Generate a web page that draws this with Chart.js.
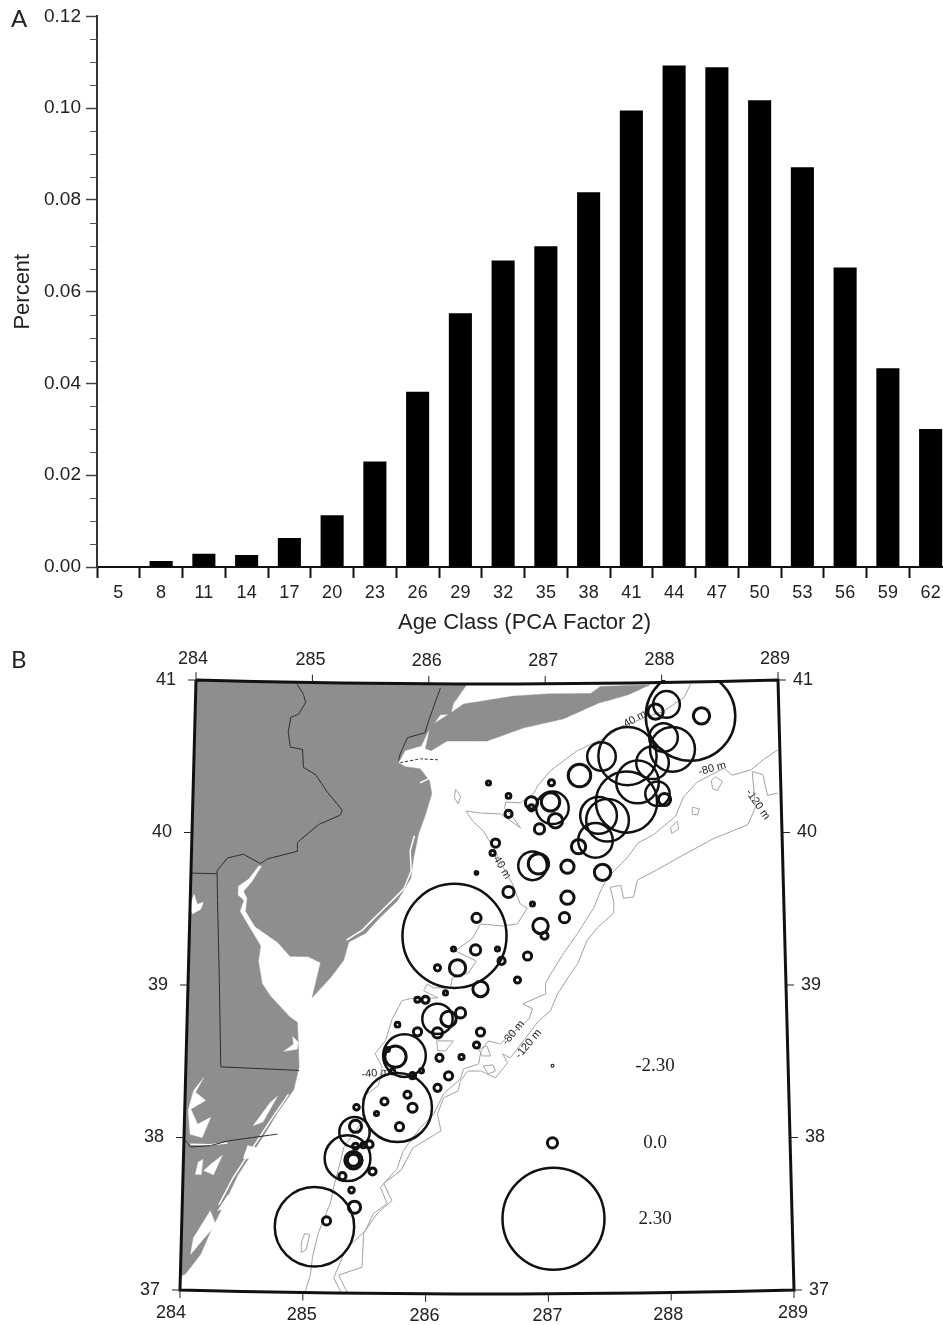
<!DOCTYPE html>
<html><head><meta charset="utf-8">
<style>html,body{margin:0;padding:0;background:#fff;width:943px;height:1325px;overflow:hidden}
canvas{position:absolute;left:0;display:block}</style>
<script src="https://cdn.jsdelivr.net/npm/chart.js@4"></script></head>
<body>
<canvas id="bars" width="960" height="645" style="top:0"></canvas>
<canvas id="map" width="943" height="680" style="top:645px"></canvas>
<script>
// ---------- Panel A ----------
const ageClasses=['5','8','11','14','17','20','23','26','29','32','35','38','41','44','47','50','53','56','59','62'];
const percentValues=[0.0001,0.0013,0.0029,0.0026,0.0063,0.0113,0.0230,0.0382,0.0553,0.0668,0.0699,0.0817,0.0995,0.1093,0.1089,0.1017,0.0871,0.0653,0.0433,0.0301];

// ---------- Panel B ----------
const lonTicks=[284,285,286,287,288,289];
const latTicks=[37,38,39,40,41];
const frameLons=[284,284.5,285,285.5,286,286.5,287,287.5,288,288.5,289];
const stationLon=[288.243,288.039,287.944,288.337,288.009,288.084,287.699,287.477,287.288,287.912,287.782,287.686,287.95,288.009,287.447,287.523,287.419,287.275,287.476,287.18,286.885,286.935,287.178,287.152,286.95,286.983,286.84,286.755,286.446,286.622,286.588,286.412,286.404,286.253,286.085,286.219,286.227,286.681,286.883,286.572,286.547,286.411,286.683,286.683,286.513,287.049,286.878,286.878,287.056,287.04,287.081,286.945,286.153,285.986,285.919,286.087,286.179,286.279,286.088,285.921,286.446,286.413,286.105,286.288,286.181,286.09,285.754,285.814,285.739,285.672,285.716,285.882,285.956,285.759,285.841,285.884,285.651,285.777,285.42,285.586,285.406,285.414,285.531,285.351,285.4,285.4,285.558,285.311,285.387,285.413,285.416,285.481,285.087,285.185];
const stationLat=[40.777,40.856,40.81,40.777,40.639,40.561,40.521,40.521,40.397,40.475,40.351,40.22,40.272,40.233,40.134,40.102,39.971,39.931,39.761,39.8,39.807,39.82,39.597,39.466,39.413,39.348,39.216,39.059,39.0,39.184,39.262,39.466,39.256,39.138,39.138,39.262,39.348,39.636,39.557,39.957,39.892,39.761,40.148,40.266,40.351,40.351,40.22,40.187,40.187,40.226,40.102,40.049,38.974,38.928,38.928,38.803,38.803,38.843,38.712,38.718,38.718,38.633,38.548,38.554,38.43,38.351,38.764,38.561,38.554,38.6,38.456,38.43,38.462,38.22,38.305,38.22,38.259,38.095,38.22,38.18,38.056,38.095,37.977,37.885,37.872,37.872,37.8,37.767,37.676,37.564,37.964,37.971,37.433,37.472];
const stationScore=[2.17,.96,.41,.47,1.03,1.48,1.74,1.03,.79,1.16,1.43,1.79,.87,.18,1.28,1.43,1.22,.34,.47,.26,1.03,.69,.26,0,.41,-.36,-.22,-.51,.41,-.36,-.92,-.11,0,.47,-.51,-.92,2.32,.09,-.92,-.22,-.69,-1.35,-.36,-.78,-.92,-.51,.18,-.51,1.16,.59,.34,0,-.92,-.36,-.69,1.09,.41,0,0,-.22,-.22,-.51,-.36,-.69,-.22,-.36,-.78,1.43,.74,-.92,-.78,-.51,-.92,1.91,-.36,-.11,-.36,-.22,-.6,-.92,1.09,.18,-.36,1.5,.53,.18,-.36,-.36,-.6,.18,-.51,-.69,2.05,-.22];
const legendLon=[287.044,287.04,287.045];
const legendLat=[38.495,37.99,37.492];
const legendScore=[-2.30,0.0,2.30];
const legendText=['-2.30','0.0','2.30'];

const contour40=[[288.25,40.987],[288.19,40.9],[288.01,40.81],[287.84,40.77],[287.64,40.705],[287.5,40.64],[287.27,40.56],[287.04,40.43],[286.93,40.33],[286.9,40.285],[286.785,40.22],[286.66,40.226],[286.65,40.187],[286.725,40.12],[286.785,40.056],[286.615,40.148],[286.445,40.154],[286.32,40.167],[286.38,40.1],[286.47,40.036],[286.555,39.925],[286.63,39.807],[286.715,39.689],[286.78,39.557],[286.84,39.531],[286.755,39.426],[286.63,39.413],[286.445,39.426],[286.38,39.335],[286.235,39.249],[286.41,39.184],[286.345,39.105],[286.21,39.072],[286.195,39.007],[286.05,39.007],[286,39.033],[285.97,38.987],[286.09,38.941],[285.86,38.935],[285.79,38.921],[285.71,38.803],[285.655,38.659],[285.57,38.574],[285.63,38.482],[285.6,38.364],[285.47,38.285],[285.47,38.2],[285.495,38.154],[285.32,37.957],[285.29,37.853],[285.24,37.695],[285.215,37.59],[285.12,37.394],[285.075,37.236],[285.06,37.118],[285.02,37.007]];
const contour80=[[288.98,40.541],[288.86,40.482],[288.75,40.416],[288.59,40.384],[288.52,40.43],[288.29,40.344],[288.17,40.246],[288.1,40.121],[287.91,40.003],[287.78,39.951],[287.69,39.859],[287.52,39.728],[287.46,39.643],[287.4,39.531],[287.26,39.361],[287.14,39.23],[287.05,39.118],[286.99,39.04],[286.99,38.967],[286.8,38.902],[286.88,38.869],[286.85,38.803],[286.61,38.64],[286.51,38.659],[286.45,38.594],[286.43,38.508],[286.305,38.476],[286.28,38.41],[286.14,38.312],[286.06,38.18],[285.95,38.089],[285.81,37.938],[285.76,37.82],[285.625,37.695],[285.68,37.59],[285.57,37.525],[285.505,37.413],[285.34,37.282],[285.3,37.197],[285.25,37.099],[285.31,37.007]];
const contour120=[[288.97,40.259],[288.885,40.246],[288.85,40.384],[288.76,40.403],[288.78,40.167],[288.71,40.056],[288.42,39.971],[288.14,39.859],[287.94,39.774],[287.77,39.708],[287.735,39.597],[287.65,39.59],[287.63,39.675],[287.54,39.662],[287.57,39.557],[287.565,39.492],[287.43,39.4],[287.34,39.315],[287.26,39.164],[287.2,39.098],[287.09,38.967],[287.03,38.856],[286.93,38.79],[286.695,38.548],[286.63,38.574],[286.67,38.515],[286.57,38.417],[286.45,38.462],[286.34,38.462],[286.28,38.397],[286.26,38.331],[286.14,38.285],[286.09,38.18],[286.12,38.069],[285.89,37.957],[285.79,37.807],[285.65,37.722],[285.72,37.61],[285.6,37.525],[285.49,37.394],[285.48,37.171],[285.29,37.118],[285.36,37.007]];
const contourLoops=[
 [[286.232,40.31],[286.274,40.266],[286.257,40.213],[286.223,40.252],[286.232,40.31]],
 [[285.007,37.387],[285.048,37.381],[285.023,37.282],[284.982,37.262],[284.982,37.328],[285.007,37.387]],
 [[288.445,40.377],[288.504,40.344],[288.46,40.285],[288.42,40.298],[288.41,40.351],[288.445,40.377]],
 [[288.244,40.18],[288.304,40.167],[288.287,40.128],[288.244,40.134],[288.244,40.18]],
 [[288.056,40.049],[288.116,40.089],[288.124,40.036],[288.065,40.01],[288.056,40.049]],
 [[286.08,38.659],[286.22,38.659],[286.155,38.594],[286.09,38.594],[286.08,38.659]],
 [[286.43,38.607],[286.5,38.626],[286.53,38.561],[286.46,38.561],[286.43,38.607]],
 [[286.47,38.495],[286.55,38.502],[286.57,38.462],[286.51,38.443],[286.47,38.495]]
];
const contourLabelText=['-40 m','-80 m','-120 m','-40 m','-40 m','-80 m','-120 m'];
const contourLabelLon=[287.754,288.42,288.8,286.62,285.575,286.72,286.845];
const contourLabelLat=[40.757,40.43,40.187,39.807,38.443,38.712,38.64];
const contourLabelAngle=[-30,-15,55,60,-5,-50,-50];

const mainland=[[284,41],[285,41],[286,41],[286.33,41],[286.21,40.869],[286.19,40.803],[286.1,40.797],[285.99,40.679],[285.94,40.593],[285.8,40.561],[285.745,40.482],[285.805,40.456],[285.93,40.443],[286.01,40.364],[286.03,40.279],[285.98,40.148],[285.92,40.016],[285.88,39.859],[285.855,39.721],[285.746,39.577],[285.6,39.466],[285.48,39.361],[285.34,39.302],[285.3,39.184],[285.19,39.066],[285.04,38.935],[285.105,39.164],[285,39.203],[284.85,39.203],[284.74,39.295],[284.55,39.394],[284.47,39.492],[284.48,39.577],[284.45,39.623],[284.52,39.689],[284.6,39.793],[284.57,39.793],[284.49,39.708],[284.4,39.656],[284.4,39.597],[284.45,39.564],[284.42,39.492],[284.51,39.38],[284.6,39.269],[284.585,39.164],[284.62,39.02],[284.69,38.941],[284.86,38.803],[284.92,38.77],[284.94,38.482],[284.9,38.331],[284.77,38.18],[284.655,38.023],[284.45,37.761],[284.34,37.564],[284.24,37.394],[284.16,37.236],[284.04,37.105],[284,37.09],[284,38],[284,39],[284,40],[284,41]];
const longIsland=[[285.975,40.574],[286.016,40.725],[286.19,40.81],[286.3,40.869],[286.47,40.889],[286.73,40.921],[287.02,40.934],[287.39,40.934],[287.475,40.98],[287.9,40.987],[287.705,40.921],[287.45,40.869],[287.155,40.77],[286.81,40.711],[286.5,40.626],[286.16,40.626],[286.02,40.561]];
const waterPatches=[
 [[284.15,38.397],[284.085,38.298],[284.17,38.246],[284.05,38.187],[284.11,38.089],[284.215,38.135],[284.15,38.003],[284.05,38.023],[284.03,38.18],[284.07,38.312]],
 [[284.03,39.597],[284.06,39.531],[284.11,39.544],[284.09,39.498],[284.02,39.466],[284,39.525]],
 [[284.88,38.679],[284.93,38.64],[284.92,38.594],[284.81,38.58],[284.89,38.626]],
 [[284.12,37.84],[284.16,37.859],[284.15,37.761],[284.1,37.761]],
 [[284.32,37.892],[284.25,37.761],[284.17,37.787],[284.24,37.84]],
 [[284.23,37.525],[284.28,37.433],[284.17,37.328],[284.08,37.236],[284.1,37.348]],
 [[284.525,37.957],[284.63,37.938],[284.58,37.872],[284.49,37.872]],
 [[284.765,38.285],[284.65,38.115],[284.57,38.089],[284.71,38.246]],
 [[284.37,37.63],[284.435,37.63],[284.355,37.544],[284.29,37.525]]
];
const marshLines=[
 [[285.885,40.003],[285.85,39.905],[285.86,39.774],[285.8,39.656],[285.7,39.577],[285.59,39.492],[285.45,39.38],[285.32,39.315]],
 [[284.855,38.298],[284.73,38.148],[284.59,37.971],[284.41,37.741],[284.3,37.564]],
 [[284.055,37.957],[284.22,37.957],[284.36,37.971]],
 [[285.93,40.351],[286,40.377]]
];
const stateLines=[
 [[284.87,40.987],[284.925,40.921],[284.945,40.869],[284.885,40.79],[284.82,40.77],[284.8,40.672],[284.82,40.574],[284.925,40.561],[284.935,40.443],[285.04,40.397],[285.14,40.285],[285.27,40.167],[285.255,40.134],[285.07,40.069],[284.895,39.951],[284.895,39.892],[284.645,39.839],[284.585,39.807]],
 [[286.1,40.974],[286,40.757],[285.97,40.679],[285.82,40.646],[285.76,40.541],[285.745,40.495]],
 [[284.585,39.807],[284.44,39.866],[284.305,39.839],[284.22,39.754],[284.23,39.557],[284.26,39.053],[284.29,38.469],[284.94,38.456]],
 [[284.01,39.734],[284.22,39.734]],
 [[284.01,37.984],[284.055,37.938],[284.22,37.951],[284.36,37.984],[284.77,38.036]]
];
const dashedLines=[[[285.76,40.482],[285.93,40.508],[286.09,40.502]]];

// ---------- helpers ----------
function project(lon,lat){
  const t=(lon-286.5)/2.5, k=116.4+1.6*(41-lat);
  return {x:286.5+(lon-286.5)*k/122.8, y:lat-4*(1-t*t)/152.5};
}
const toPts=a=>a.map(p=>project(p[0],p[1]));
const radiusOf=s=>5.1*Math.pow(10,s/2.3);
const SANS='"Liberation Sans", Arial, sans-serif';

// ---------- Panel A chart ----------
new Chart(document.getElementById('bars'),{
  type:'bar',
  data:{labels:ageClasses,datasets:[{data:percentValues,backgroundColor:'#000',barPercentage:.54,categoryPercentage:1}]},
  plugins:[{id:'minor',afterDraw(c){
    const y=c.scales.y,ctx=c.ctx,l=c.chartArea.left;
    ctx.save();ctx.strokeStyle='#555';ctx.lineWidth=1;
    for(let i=0;i<=24;i++){ if(i%4===0)continue;
      const py=Math.round(y.getPixelForValue(i*0.005))+.5;
      ctx.beginPath();ctx.moveTo(l-7,py);ctx.lineTo(l,py);ctx.stroke();}
    ctx.fillStyle='#222';ctx.font='24px Lato';ctx.textBaseline='alphabetic';ctx.fillText('A',11,27);
    ctx.restore();
  }}],
  options:{responsive:false,animation:false,devicePixelRatio:1,
    layout:{padding:{top:13,right:8,left:0,bottom:0}},
    plugins:{legend:{display:false},tooltip:{enabled:false}},
    scales:{
      x:{afterFit(s){s.height=78},
        grid:{drawOnChartArea:false,tickLength:11,tickWidth:2,tickColor:'#111',offset:true},
        border:{color:'#111',width:2},
        ticks:{font:{family:SANS,size:18},color:'#222',padding:4,maxRotation:0,autoSkip:false},
        title:{display:true,text:'Age Class (PCA Factor 2)',font:{family:SANS,size:22},color:'#222',padding:{top:6,bottom:9}}},
      y:{min:0,max:.12,afterFit(s){s.width=97},
        grid:{drawOnChartArea:false,tickLength:11,tickWidth:1.5,tickColor:'#444'},
        border:{color:'#333',width:2},
        ticks:{stepSize:.02,font:{family:SANS,size:19},color:'#222',padding:5,callback:v=>(+v).toFixed(2)},
        title:{display:true,text:'Percent',font:{family:SANS,size:22},color:'#222',padding:{top:10,bottom:0}}}
    }}
});

// ---------- Panel B chart ----------
const lineDs=(pts,color,width,order,extra)=>Object.assign({type:'line',data:pts,borderColor:color,borderWidth:width,pointRadius:0,tension:.001,fill:false,order,clip:false},extra||{});
const polyDs=(pts,color,order)=>({type:'line',data:pts,borderColor:color,backgroundColor:color,borderWidth:.5,pointRadius:0,tension:.001,fill:'shape',order,clip:false});
const frame=[...frameLons.map(l=>[l,41]),[289,40],[289,39],[289,38],...frameLons.slice().reverse().map(l=>[l,37]),[284,38],[284,39],[284,40],[284,41]];
const stations=stationLon.map((lon,i)=>{const p=project(lon,stationLat[i]);return {x:p.x,y:p.y,r:radiusOf(stationScore[i])}});
const legendPts=legendLon.map((lon,i)=>{const p=project(lon,legendLat[i]);return {x:p.x,y:p.y,r:radiusOf(legendScore[i])}});
const LAND='#8e8e8e',CONT='#9c9c9c',STATE='#2a2a2a';
const ringWidth=ctx=>{const r=ctx.raw&&ctx.raw.r;return r<12?3:2.5};
const mapDatasets=[
  lineDs(toPts(frame),'#111',3,0),
  {type:'bubble',data:stations,backgroundColor:'rgba(0,0,0,0)',borderColor:'#111',borderWidth:ringWidth,hoverRadius:0,order:1,clip:0},
  {type:'bubble',data:legendPts,backgroundColor:'rgba(0,0,0,0)',borderColor:'#111',borderWidth:ringWidth,hoverRadius:0,order:1,clip:0},
  ...[contour40,contour80,contour120,...contourLoops].map(c=>lineDs(toPts(c),CONT,1,2)),
  ...stateLines.map(c=>lineDs(toPts(c),STATE,1,3)),
  ...dashedLines.map(c=>lineDs(toPts(c),STATE,1,3,{borderDash:[3,2]})),
  ...marshLines.map(c=>lineDs(toPts(c),'#fff',1.5,4)),
  ...waterPatches.map(c=>polyDs(toPts(c),'#fff',5)),
  polyDs(toPts(mainland),LAND,6),
  polyDs(toPts(longIsland),LAND,6)
];
new Chart(document.getElementById('map'),{
  type:'scatter',
  data:{datasets:mapDatasets},
  plugins:[{id:'mapText',
    beforeDatasetsDraw(c){
      const ctx=c.ctx,X=c.scales.x,Y=c.scales.y;
      ctx.save();ctx.fillStyle='#222';ctx.font='11px '+SANS;ctx.textAlign='center';ctx.textBaseline='middle';
      contourLabelText.forEach((t,i)=>{const p=project(contourLabelLon[i],contourLabelLat[i]);
        ctx.save();ctx.translate(X.getPixelForValue(p.x),Y.getPixelForValue(p.y));ctx.rotate(contourLabelAngle[i]*Math.PI/180);ctx.fillText(t,0,0);ctx.restore();});
      ctx.restore();
    },
    afterDatasetsDraw(c){
      const ctx=c.ctx,X=c.scales.x,Y=c.scales.y;
      const P=(lon,lat)=>{const p=project(lon,lat);return [X.getPixelForValue(p.x),Y.getPixelForValue(p.y)]};
      ctx.save();ctx.strokeStyle='#222';ctx.lineWidth=1;ctx.fillStyle='#222';
      ctx.font='18px '+SANS;ctx.textAlign='center';ctx.textBaseline='middle';
      const seg=(a,b,dx,dy)=>{ctx.beginPath();ctx.moveTo(a,b);ctx.lineTo(a+dx,b+dy);ctx.stroke();};
      lonTicks.forEach((lon,i)=>{
        const [tx,ty]=P(lon,41),[bx,by]=P(lon,37);
        seg(tx,ty,0,-8);seg(bx,by,0,8);
        const edge=(i===0||i===5);
        ctx.fillText(String(lon),tx-(edge?3:2),ty-(edge?21:23));
        ctx.fillText(String(lon),bx-(i===0?9:i===4?3:1),by+(edge?23:22));
      });
      latTicks.forEach(lat=>{
        const [lx,ly]=P(284,lat),[rx,ry]=P(289,lat);
        seg(lx,ly,-8,0);seg(rx,ry,8,0);
        ctx.fillText(String(lat),lx-30,ly);
        ctx.fillText(String(lat),rx+25,ry);
      });
      ctx.font='19px "Liberation Serif", serif';
      legendText.forEach((t,i)=>{
        const [,ly]=P(legendLon[i],legendLat[i]);
        ctx.fillText(t,655,ly);
      });
      ctx.font='24px Lato';ctx.textAlign='left';ctx.textBaseline='alphabetic';ctx.fillText('B',11,23);
      ctx.restore();
    }}],
  options:{responsive:false,animation:false,devicePixelRatio:1,
    layout:{autoPadding:false,padding:{left:180,right:149,top:35,bottom:35}},
    plugins:{legend:{display:false},tooltip:{enabled:false}},
    events:[],
    scales:{x:{type:'linear',min:284,max:289,display:false},y:{type:'linear',min:37,max:41,display:false}}
  }
});
</script>
</body></html>
